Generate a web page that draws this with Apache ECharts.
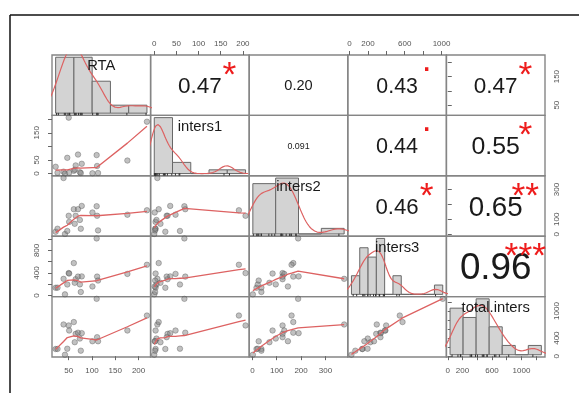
<!DOCTYPE html>
<html>
<head>
<meta charset="utf-8">
<script src="https://cdn.jsdelivr.net/npm/echarts@6/dist/echarts.min.js"></script>
<style>
  html, body { margin: 0; padding: 0; background: #fff; }
  #chart { width: 579px; height: 393px; }
</style>
</head>
<body>
<div id="chart"></div>
<script>
const varNames = ["RTA", "inters1", "inters2", "inters3", "total.inters"];
const rta = [22, 26, 39, 42, 47, 50, 51, 61, 65, 63, 70, 78, 74, 76, 101, 110, 111, 113, 176, 218];
const inters1 = [25, 3, 7, 0, 58, 206, 3, 10, 30, 14, 70, 36, 5, 2, 1, 68, 28, 2, 48, 191];
const inters2 = [17, 37, 377, 2, 22, 124, 83, 168, 124, 70, 168, 190, 96, 37, 146, 188, 124, 26, 131, 161];
const inters3 = [138, 140, 296, 21, 196, 398, 390, 576, 290, 226, 336, 340, 198, 63, 161, 1013, 336, 266, 384, 546];
const totalInters = [159, 160, 702, 31, 165, 680, 568, 756, 494, 309, 520, 510, 390, 121, 331, 1270, 420, 330, 568, 900];

// histogram breaks of the diagonal panels
const rtaBreaks = [20, 60, 100, 140, 180, 220];
const inters1Breaks = [0, 50, 100, 150, 200, 250];
const inters2Breaks = [0, 100, 200, 300, 400];
const inters3Breaks = [0, 100, 200, 300, 400, 500, 600, 700, 800, 900, 1000, 1100];
const totalBreaks = [0, 200, 400, 600, 800, 1000, 1200, 1400];

// axis ticks and the labels that are printed
const rtaTicks = [50, 100, 150, 200];
const rtaXLabels = [50, 100, 150, 200];
const rtaYLabels = [50, 150];
const inters1Ticks = [0, 50, 100, 150, 200];
const inters1XLabels = [0, 50, 100, 150, 200];
const inters1YLabels = [0, 50, 150];
const inters2Ticks = [0, 100, 200, 300];
const inters2XLabels = [0, 100, 200, 300];
const inters2YLabels = [0, 100, 300];
const inters3Ticks = [0, 200, 400, 600, 800, 1000];
const inters3XLabels = [0, 200, 600, 1000];
const inters3YLabels = [0, 400, 800];
const totalTicks = [0, 200, 400, 600, 800, 1000, 1200];
const totalXLabels = [0, 200, 600, 1000];
const totalYLabels = [0, 400, 1000];

// correlations printed in the upper panels
const corrPairs = [[0, 1], [0, 2], [0, 3], [0, 4], [1, 2], [1, 3], [1, 4], [2, 3], [2, 4], [3, 4]];
const corrValues = ["0.47", "0.20", "0.43", "0.47", "0.091", "0.44", "0.55", "0.46", "0.65", "0.96"];
const corrStars = ["*", "", ".", "*", "", ".", "*", "*", "**", "***"];

const vars = [rta, inters1, inters2, inters3, totalInters];
const breaks = [rtaBreaks, inters1Breaks, inters2Breaks, inters3Breaks, totalBreaks];
const ticks = [rtaTicks, inters1Ticks, inters2Ticks, inters3Ticks, totalTicks];
const xLabels = [rtaXLabels, inters1XLabels, inters2XLabels, inters3XLabels, totalXLabels];
const yLabels = [rtaYLabels, inters1YLabels, inters2YLabels, inters3YLabels, totalYLabels];

// layout
const X0 = 52, Y0 = 55, W = 98.6, H = 60.4;
const FONT = "Liberation Sans, Arial, sans-serif";
const RED_LINE = "#dd6262";

function extend(v) {
  const lo = Math.min(...v), hi = Math.max(...v), d = (hi - lo) * 0.04;
  return [lo - d, hi + d];
}

// port of R's clowess (f = 2/3, iter = 3)
function lowess(xIn, yIn, f, nsteps) {
  const n = xIn.length;
  const idx = xIn.map((v, k) => k).sort((a, b) => xIn[a] - xIn[b] || a - b);
  const x = [0].concat(idx.map(k => xIn[k]));
  const y = [0].concat(idx.map(k => yIn[k]));
  const ys = new Array(n + 1).fill(0), rw = new Array(n + 1).fill(0);
  const res = new Array(n + 1).fill(0), w = new Array(n + 1).fill(0);
  const delta = 0.01 * (x[n] - x[1]);
  const ns = Math.max(2, Math.min(n, Math.floor(f * n + 1e-7)));

  function lowest(xs, nleft, nright, userw) {
    const range = x[n] - x[1];
    const h = Math.max(xs - x[nleft], x[nright] - xs);
    let a = 0, j = nleft;
    while (j <= n) {
      w[j] = 0;
      const r = Math.abs(x[j] - xs);
      if (r <= 0.999 * h) {
        w[j] = r <= 0.001 * h ? 1 : Math.pow(1 - Math.pow(r / h, 3), 3);
        if (userw) w[j] *= rw[j];
        a += w[j];
      } else if (x[j] > xs) break;
      j++;
    }
    const nrt = j - 1;
    if (a <= 0) return null;
    for (j = nleft; j <= nrt; j++) w[j] /= a;
    if (h > 0) {
      a = 0;
      for (j = nleft; j <= nrt; j++) a += w[j] * x[j];
      let b = xs - a, c = 0;
      for (j = nleft; j <= nrt; j++) c += w[j] * (x[j] - a) * (x[j] - a);
      if (Math.sqrt(c) > 0.001 * range) {
        b /= c;
        for (j = nleft; j <= nrt; j++) w[j] *= b * (x[j] - a) + 1;
      }
    }
    let s = 0;
    for (j = nleft; j <= nrt; j++) s += w[j] * y[j];
    return s;
  }

  for (let iter = 1; iter <= nsteps + 1; iter++) {
    let nleft = 1, nright = ns, last = 0, i = 1;
    for (;;) {
      if (nright < n) {
        const d1 = x[i] - x[nleft], d2 = x[nright + 1] - x[i];
        if (d1 > d2) { nleft++; nright++; continue; }
      }
      const v = lowest(x[i], nleft, nright, iter > 1);
      ys[i] = v === null ? y[i] : v;
      if (last < i - 1) {
        const denom = x[i] - x[last];
        for (let j = last + 1; j < i; j++) {
          const alpha = (x[j] - x[last]) / denom;
          ys[j] = alpha * ys[i] + (1 - alpha) * ys[last];
        }
      }
      last = i;
      const cut = x[last] + delta;
      for (i = last + 1; i <= n; i++) {
        if (x[i] > cut) break;
        if (x[i] === x[last]) { ys[i] = ys[last]; last = i; }
      }
      i = Math.max(last + 1, i - 1);
      if (last >= n) break;
    }
    for (let k = 1; k <= n; k++) res[k] = y[k] - ys[k];
    if (iter > nsteps) break;
    const ar = res.slice(1).map(Math.abs).sort((a, b) => a - b);
    const sc = ar.reduce((s, v) => s + v, 0) / n;
    const m1 = Math.floor(n / 2);
    const cmad = n % 2 === 0 ? 3 * (ar[m1] + ar[n - m1 - 1]) : 6 * ar[m1];
    if (cmad < 1e-7 * sc) break;
    for (let k = 1; k <= n; k++) {
      const r = Math.abs(res[k]);
      rw[k] = r <= 0.001 * cmad ? 1 : (r <= 0.999 * cmad ? Math.pow(1 - Math.pow(r / cmad, 2), 2) : 0);
    }
  }
  return x.slice(1).map((v, k) => [v, ys[k + 1]]);
}

// gaussian kernel density with bw.nrd0, like R's density()
function density(v) {
  const n = v.length, s = v.slice().sort((a, b) => a - b);
  const mean = s.reduce((a, b) => a + b, 0) / n;
  const sd = Math.sqrt(s.reduce((a, b) => a + (b - mean) * (b - mean), 0) / (n - 1));
  const q = p => { const h = (n - 1) * p, lo = Math.floor(h); return s[lo] + (h - lo) * ((lo + 1 < n ? s[lo + 1] : s[lo]) - s[lo]); };
  const lo = Math.min(sd, (q(0.75) - q(0.25)) / 1.34) || sd;
  const bw = 0.9 * lo * Math.pow(n, -0.2);
  const from = s[0] - 3 * bw, to = s[n - 1] + 3 * bw, out = [];
  for (let k = 0; k < 512; k++) {
    const gx = from + (to - from) * k / 511;
    let d = 0;
    for (const xi of v) { const z = (gx - xi) / bw; d += Math.exp(-0.5 * z * z); }
    out.push([gx, d / (n * bw * Math.sqrt(2 * Math.PI))]);
  }
  return out;
}

function histogram(v, b) {
  const counts = new Array(b.length - 1).fill(0);
  for (const x of v) {
    for (let k = 0; k < b.length - 1; k++) {
      if ((x > b[k] || (k === 0 && x === b[0])) && x <= b[k + 1]) { counts[k]++; break; }
    }
  }
  return counts.map((c, k) => [b[k], b[k + 1], c / (v.length * (b[k + 1] - b[k]))]);
}

const ranges = vars.map(extend);
const grids = [], xAxes = [], yAxes = [], series = [];

const tickStyle = { show: true, inside: false, length: 4, lineStyle: { color: "#666", width: 1 } };
const labelStyle = { fontSize: 8, color: "#555", fontFamily: FONT, formatter: v => String(v) };

for (let i = 0; i < 5; i++) {
  for (let j = 0; j < 5; j++) {
    const g = grids.length;
    grids.push({
      left: X0 + j * W, top: Y0 + i * H, width: W, height: H,
      show: true, borderColor: "#858585", borderWidth: 1.4, backgroundColor: "transparent"
    });
    const showX = (i === 0 && j % 2 === 1) || (i === 4 && j % 2 === 0);
    const showY = (j === 0 && i % 2 === 1) || (j === 4 && i % 2 === 0);
    const fx = xAxes.length, fy = yAxes.length;
    xAxes.push({
      gridIndex: g, type: "value", min: ranges[j][0], max: ranges[j][1],
      position: i === 0 ? "top" : "bottom",
      axisLine: { show: false }, splitLine: { show: false },
      axisTick: showX ? Object.assign({ customValues: ticks[j] }, tickStyle) : { show: false },
      axisLabel: showX ? Object.assign({ customValues: xLabels[j], margin: i === 0 ? 7 : 10 }, labelStyle) : { show: false }
    });
    yAxes.push({
      gridIndex: g, type: "value", min: ranges[i][0], max: ranges[i][1],
      position: j === 0 ? "left" : "right",
      axisLine: { show: false }, splitLine: { show: false },
      axisTick: showY ? Object.assign({ customValues: ticks[i] }, tickStyle) : { show: false },
      axisLabel: showY ? Object.assign({ customValues: yLabels[i], rotate: 90, margin: j === 0 ? 11 : 8 }, labelStyle) : { show: false }
    });

    if (i > j) {
      const pts = vars[j].map((v, k) => [v, vars[i][k]]);
      series.push({
        type: "scatter", xAxisIndex: fx, yAxisIndex: fy, data: pts, symbolSize: 5.5,
        itemStyle: { color: "rgba(125,125,125,0.6)", borderColor: "rgba(70,70,70,0.55)", borderWidth: 0.8 },
        z: 3
      });
      series.push({
        type: "line", xAxisIndex: fx, yAxisIndex: fy, data: lowess(vars[j], vars[i], 2 / 3, 3),
        showSymbol: false, clip: true, lineStyle: { color: RED_LINE, width: 1.3 }, z: 4
      });
    } else if (i === j) {
      const b = breaks[i];
      const bins = histogram(vars[i], b);
      const maxD = Math.max(...bins.map(d => d[2]));
      const span = b[b.length - 1] - b[0];
      const hx = xAxes.length, hy = yAxes.length;
      xAxes.push({ gridIndex: g, type: "value", show: false, min: b[0] - 0.04 * span, max: b[b.length - 1] + 0.04 * span });
      yAxes.push({ gridIndex: g, type: "value", show: false, min: -0.04 * maxD, max: 1.04 * maxD });
      series.push({
        type: "custom", xAxisIndex: hx, yAxisIndex: hy, data: bins, clip: true, z: 2,
        renderItem: (params, api) => {
          const p0 = api.coord([api.value(0), 0]);
          const p1 = api.coord([api.value(1), api.value(2)]);
          return { type: "rect", shape: { x: p0[0], y: p1[1], width: p1[0] - p0[0], height: p0[1] - p1[1] },
            style: { fill: "#d3d3d3", stroke: "#686868", lineWidth: 1 } };
        }
      });
      series.push({
        type: "line", xAxisIndex: hx, yAxisIndex: hy, data: density(vars[i]),
        showSymbol: false, clip: true, lineStyle: { color: RED_LINE, width: 1.2 }, z: 3
      });
      // rug along the bottom
      series.push({
        type: "custom", xAxisIndex: hx, yAxisIndex: hy, data: vars[i].map(v => [v]), clip: true, z: 4,
        renderItem: (params, api) => {
          const p = api.coord([api.value(0), -0.04 * maxD]);
          return { type: "line", shape: { x1: p[0], y1: p[1], x2: p[0], y2: p[1] - 2.5 },
            style: { stroke: "#333", lineWidth: 1 } };
        }
      });
    }
  }
}

// text placed so the centre of the glyphs sits on the target point (as R does)
const mctx = document.createElement("canvas").getContext("2d");
function glyphShift(text, size) {
  mctx.font = size + "px " + FONT;
  mctx.textBaseline = "middle";
  const m = mctx.measureText(text);
  return (m.actualBoundingBoxDescent - m.actualBoundingBoxAscent) / 2;
}
function textWidth(text, size) {
  mctx.font = size + "px " + FONT;
  return mctx.measureText(text).width;
}
function centredText(text, size, cx, cy, color) {
  return {
    type: "text", z: 10, silent: true,
    style: { text: text, x: cx, y: cy - glyphShift(text, size), fill: color,
      font: size + "px " + FONT, align: "center", verticalAlign: "middle" }
  };
}

const graphics = [
  { type: "line", shape: { x1: 10, y1: 15, x2: 579, y2: 15 }, style: { stroke: "#111", lineWidth: 1.5 } },
  { type: "line", shape: { x1: 10, y1: 15, x2: 10, y2: 393 }, style: { stroke: "#111", lineWidth: 1.5 } }
];

corrPairs.forEach(([i, j], k) => {
  const txt = corrValues[k];
  const r = Math.abs(parseFloat(txt));
  const unit = textWidth(txt, 100) / 100;
  const size = 0.75 * W * (r + 0.3) / 1.3 / unit;
  const left = X0 + j * W, top = Y0 + i * H;
  graphics.push(centredText(txt, size, left + 0.5 * W, top + 0.5 * H, "#1a1a1a"));
  if (corrStars[k]) {
    const starSize = 0.7 * W / unit;
    graphics.push(centredText(corrStars[k], starSize, left + 0.8 * W, top + 0.2 * H + 1.5, "#ee1c1c"));
  }
});

varNames.forEach((name, i) => {
  graphics.push(centredText(name, 14.8, X0 + i * W + 0.5 * W, Y0 + i * H + (1 - 0.8333) * H, "#1a1a1a"));
});

const chart = echarts.init(document.getElementById("chart"));
chart.setOption({
  animation: false,
  backgroundColor: "#fff",
  grid: grids,
  xAxis: xAxes,
  yAxis: yAxes,
  series: series,
  graphic: graphics
});
</script>
</body>
</html>
